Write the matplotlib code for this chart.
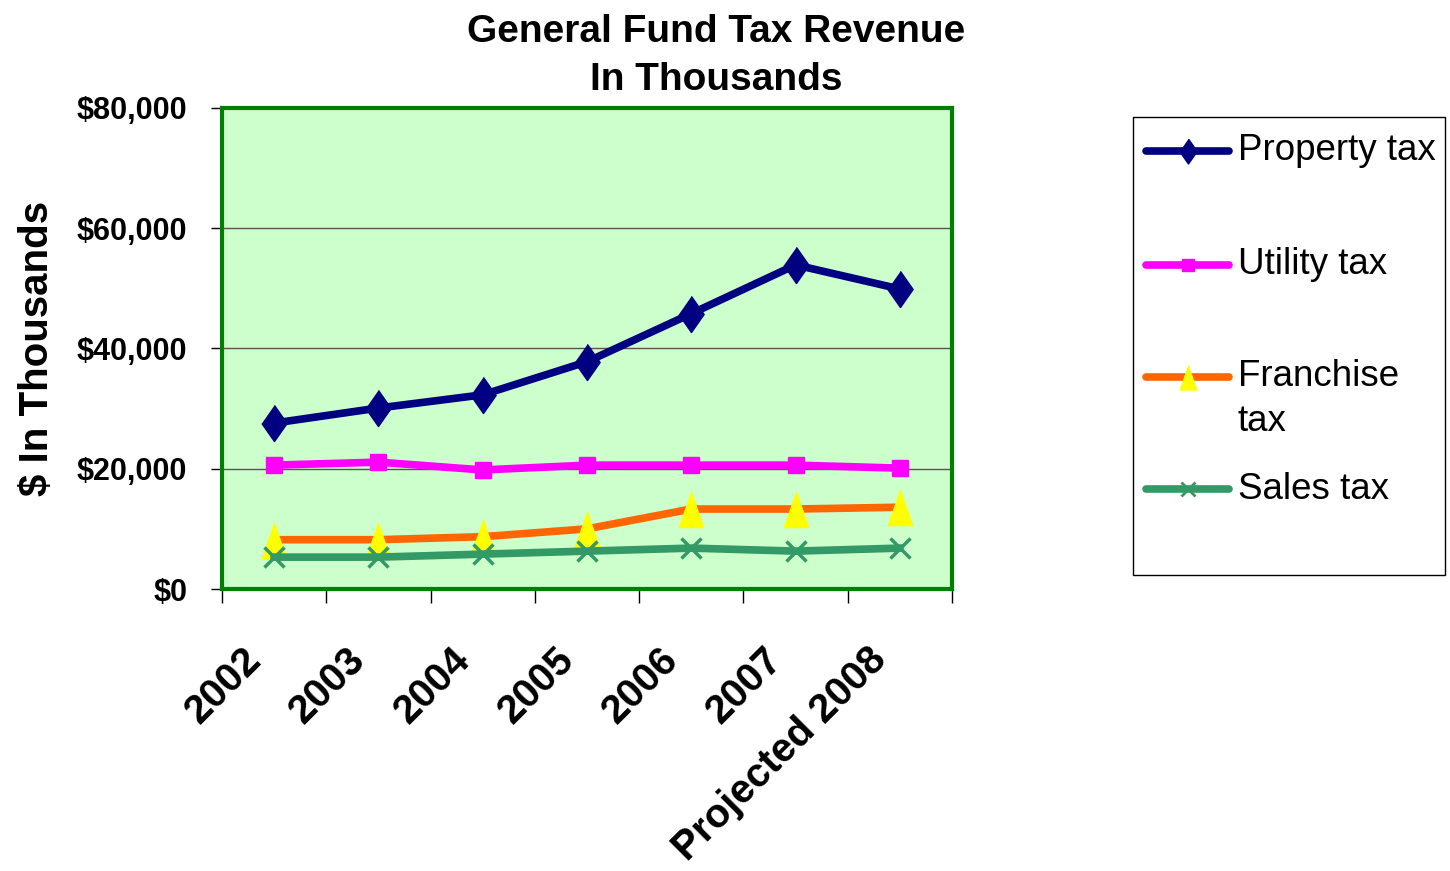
import numpy as np
import matplotlib.pyplot as plt
from matplotlib.ticker import FuncFormatter, FixedLocator
from matplotlib.lines import Line2D
from matplotlib.patches import Rectangle
from matplotlib.transforms import ScaledTranslation

plt.rcParams['font.family'] = ['Liberation Sans', 'DejaVu Sans']

# data (in thousands of dollars)
years = ['2002', '2003', '2004', '2005', '2006', '2007', 'Projected 2008']
property_tax = [27600, 30100, 32300, 37800, 45800, 53900, 49900]
utility_tax = [20600, 21100, 19800, 20600, 20600, 20600, 20100]
franchise_tax = [8200, 8200, 8700, 10000, 13300, 13300, 13600]
sales_tax = [5300, 5300, 5800, 6300, 6800, 6300, 6800]
labels = ['Property tax', 'Utility tax', 'Franchise\ntax', 'Sales tax']

W, H = 1450, 871
fig = plt.figure(figsize=(W / 100, H / 100), dpi=100)
ax = fig.add_axes([222 / W, 1 - 589 / H, 730 / W, 481 / H])
ax.set_facecolor('#CCFFCC')

x = np.arange(len(years))
diamond = [(0, 1), (0.7, 0), (0, -1), (-0.7, 0)]
tri = [(-0.7, -1), (0.7, -1), (0, 1)]

# style of each series: (line colour, marker, size, face colour, edge width)
styles = [
    ('#000080', diamond, 26, '#000080', 1),
    ('#FF00FF', 's', 11, '#FF00FF', 1),
    ('#FF6600', tri, 27, '#FFFF00', 0),
    ('#339966', 'x', 14, '#339966', 2.5),
]
series = [property_tax, utility_tax, franchise_tax, sales_tax]
zorders = [5, 4, 3, 6]

for vals, st, lab, z in zip(series, styles, labels, zorders):
    col, mk, ms, fc, mew = st
    ax.plot(x, vals, color=col, lw=5.5, marker=mk, ms=ms, mfc=fc, mec=fc,
            mew=mew, label=lab, zorder=z)

ax.set_xlim(-0.5, len(years) - 0.5)
ax.set_ylim(0, 80000)
ax.set_yticks([0, 20000, 40000, 60000, 80000])
ax.yaxis.set_major_formatter(FuncFormatter(lambda v, p: '${:,.0f}'.format(v)))
ax.grid(axis='y', color='#555555', lw=1)
ax.set_axisbelow(True)

# category ticks between the points, labels at the points
ax.set_xticks(x)
ax.set_xticklabels(years, rotation=45, ha='right', va='center',
                   rotation_mode='anchor', fontsize=29, fontweight='bold')
ax.tick_params(axis='x', which='major', length=0, pad=0)
offset = ScaledTranslation(-0.19, -0.65, fig.dpi_scale_trans)
for lab in ax.get_xticklabels():
    lab.set_transform(lab.get_transform() + offset)
ax.xaxis.set_minor_locator(FixedLocator(np.arange(-0.5, len(years), 1)))
ax.tick_params(axis='x', which='minor', length=10, width=1, color='black')
ax.tick_params(axis='y', length=8, width=1, labelsize=22, pad=17)
for lab in ax.get_yticklabels():
    lab.set_fontweight('bold')

for s in ax.spines.values():
    s.set_color('#008000')
    s.set_linewidth(3)

ax.set_ylabel('$ In Thousands', fontsize=29, fontweight='bold')
ax.yaxis.set_label_coords(-0.228, 0.5)

# title, two centred lines
fig.text(716 / W, 1 - 42 / H, 'General Fund Tax Revenue', ha='center',
         va='baseline', fontsize=28, fontweight='bold')
fig.text(716 / W, 1 - 90 / H, 'In Thousands', ha='center',
         va='baseline', fontsize=28, fontweight='bold')

# legend box drawn by hand to keep the spacing of the original
def fx(px):
    return px / W

def fy(py):
    return 1 - py / H

fig.add_artist(Rectangle((fx(1133), fy(575)), fx(1445) - fx(1133),
                         fy(117) - fy(575), transform=fig.transFigure,
                         fill=False, edgecolor='black', lw=1))
leg_y = [151, 265, 377, 489]
leg_ms = [18, 9, 19, 10]
for st, lab, yy, lms in zip(styles, labels, leg_y, leg_ms):
    col, mk, ms, fc, mew = st
    fig.add_artist(Line2D([fx(1146), fx(1229)], [fy(yy), fy(yy)],
                          transform=fig.transFigure, color=col, lw=5.5,
                          solid_capstyle='round'))
    fig.add_artist(Line2D([fx(1188)], [fy(yy)], transform=fig.transFigure,
                          marker=mk, ms=lms, mfc=fc, mec=fc, mew=min(mew, 2),
                          lw=0))
    for i, line in enumerate(lab.split('\n')):
        fig.text(fx(1238), fy(yy + i * 44), line, ha='left', va='center',
                 fontsize=26.5)

fig.savefig('out.png', dpi=100)
